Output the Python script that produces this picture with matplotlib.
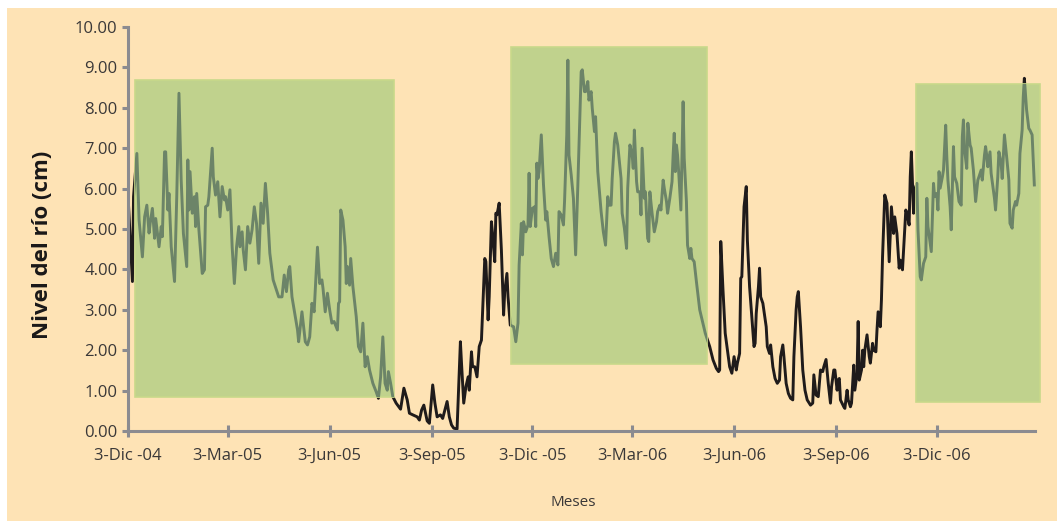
import matplotlib
matplotlib.use("Agg")
import matplotlib.pyplot as plt
from matplotlib.patches import Rectangle
import numpy as np

# ---- data -------------------------------------------------------------
inicio = np.datetime64('2004-12-03')

dias = [
    0, 4, 5, 8, 10, 13, 15, 17, 19, 20,
    22, 24, 25, 28, 30, 31, 33, 34, 36, 37,
    39, 42, 44, 46, 48, 50, 53, 54, 55, 56,
    58, 60, 61, 62, 64, 67, 69, 70, 72, 73,
    76, 77, 79, 81, 83, 85, 87, 88, 90, 92,
    94, 96, 98, 100, 101, 103, 104, 106, 108, 110,
    112, 114, 116, 118, 120, 122, 124, 126, 128, 131,
    133, 136, 139, 141, 143, 145, 146, 148, 151, 153,
    154, 157, 160, 162, 164, 166, 168, 170, 171, 173,
    175, 176, 178, 180, 182, 184, 186, 189, 190, 191,
    192, 194, 196, 197, 198, 200, 201, 203, 206, 208,
    210, 212, 214, 216, 218, 221, 224, 226, 228, 230,
    232, 234, 235, 237, 239, 242, 246, 249, 252, 254,
    257, 261, 263, 265, 267, 270, 272, 275, 277, 279,
    282, 284, 286, 288, 290, 292, 294, 297, 300, 301,
    303, 305, 307, 308, 310, 311, 313, 315, 317, 319,
    320, 322, 323, 325, 326, 328, 329, 331, 332, 333,
    335, 337, 339, 340, 342, 343, 345, 348, 350, 352,
    353, 355, 356, 357, 359, 361, 362, 363, 365, 367,
    368, 369, 370, 371, 373, 375, 377, 378, 380, 382,
    384, 386, 388, 389, 391, 393, 394, 396, 397, 398,
    400, 402, 404, 406, 408, 409, 410, 412, 413, 415,
    416, 418, 419, 421, 422, 424, 427, 429, 431, 433,
    434, 436, 437, 439, 440, 442, 445, 446, 448, 450,
    451, 453, 455, 456, 457, 459, 460, 462, 463, 464,
    466, 467, 469, 470, 471, 473, 475, 477, 478, 480,
    481, 483, 484, 486, 487, 489, 491, 492, 493, 494,
    495, 496, 497, 499, 501, 502, 504, 505, 507, 508,
    509, 511, 513, 516, 521, 525, 528, 531, 533, 534,
    535, 537, 539, 541, 543, 545, 547, 549, 550, 552,
    553, 554, 556, 558, 559, 561, 563, 565, 566, 567,
    569, 570, 571, 573, 576, 577, 579, 580, 582, 584,
    586, 588, 589, 591, 592, 594, 596, 598, 600, 601,
    603, 604, 605, 607, 609, 611, 613, 616, 618, 619,
    621, 623, 625, 627, 628, 630, 632, 634, 635, 637,
    638, 640, 641, 642, 643, 646, 647, 649, 650, 652,
    653, 655, 656, 658, 659, 660, 662, 663, 664, 665,
    667, 669, 670, 672, 673, 675, 676, 677, 679, 680,
    681, 683, 685, 687, 689, 691, 692, 694, 696, 697,
    699, 702, 703, 705, 706, 707, 709, 710, 712, 713,
    715, 716, 718, 720, 721, 722, 724, 725, 727, 728,
    730, 731, 732, 733, 735, 736, 738, 739, 740, 742,
    743, 745, 746, 748, 750, 752, 753, 754, 755, 757,
    758, 760, 761, 763, 765, 767, 768, 770, 771, 773,
    774, 775, 776, 778, 779, 782, 783, 785, 786, 788,
    789, 791, 793, 795, 796, 798, 799, 801, 802, 804,
    805, 807, 808, 809, 811, 813, 814, 816, 818,
]

nivel = [
    5.84, 3.70, 5.80, 6.87, 5.22, 4.31, 5.30, 5.59, 4.90, 5.14,
    5.51, 4.77, 5.26, 4.56, 5.06, 4.81, 6.91, 6.91, 5.47, 5.88,
    4.56, 3.70, 5.80, 8.36, 6.21, 4.89, 4.07, 6.71, 5.47, 6.42,
    5.39, 5.80, 5.06, 5.88, 4.98, 3.90, 3.99, 5.55, 5.59, 5.80,
    7.00, 6.29, 5.84, 6.17, 5.30, 6.05, 5.72, 5.80, 5.47, 5.97,
    4.56, 3.65, 4.56, 5.06, 4.56, 4.93, 4.48, 3.99, 5.06, 4.65,
    4.98, 5.55, 5.14, 4.15, 5.64, 5.14, 6.13, 5.39, 4.40, 3.74,
    3.57, 3.32, 3.32, 3.86, 3.45, 3.99, 4.07, 3.32, 2.83, 2.50,
    2.21, 2.95, 2.21, 2.13, 2.33, 3.16, 2.95, 3.99, 4.55, 3.65,
    3.74, 3.53, 2.95, 3.41, 3.00, 2.67, 2.71, 2.50, 3.16, 3.20,
    5.47, 5.22, 4.56, 3.65, 4.07, 3.61, 4.27, 3.57, 2.83, 2.09,
    1.96, 2.67, 1.59, 1.84, 1.51, 1.18, 0.97, 0.81, 1.34, 2.33,
    1.18, 1.01, 1.47, 1.18, 0.85, 0.69, 0.54, 1.06, 0.77, 0.44,
    0.40, 0.35, 0.27, 0.52, 0.64, 0.25, 0.19, 1.14, 0.69, 0.35,
    0.40, 0.31, 0.52, 0.73, 0.35, 0.15, 0.07, 0.05, 2.21, 1.68,
    0.69, 1.10, 1.34, 1.01, 1.96, 1.59, 1.59, 1.34, 2.09, 2.25,
    2.91, 4.27, 4.19, 2.75, 3.32, 5.18, 4.89, 4.19, 5.39, 5.35,
    5.64, 4.48, 2.87, 3.45, 3.90, 3.32, 2.62, 2.58, 2.21, 2.67,
    4.11, 5.14, 4.36, 5.18, 4.93, 5.10, 6.38, 5.06, 5.51, 5.55,
    5.06, 6.63, 6.25, 6.42, 7.33, 6.09, 5.22, 5.43, 4.81, 4.27,
    4.07, 4.40, 4.11, 5.43, 5.35, 5.10, 5.68, 7.33, 9.18, 6.83,
    6.34, 5.76, 4.36, 6.09, 7.99, 8.89, 8.94, 8.40, 8.40, 8.65,
    8.19, 8.40, 7.99, 7.41, 7.78, 6.42, 5.43, 4.93, 4.60, 5.80,
    5.59, 5.59, 6.25, 7.16, 7.37, 7.08, 6.25, 5.39, 5.02, 4.52,
    6.01, 7.08, 6.83, 6.50, 7.45, 6.17, 5.92, 5.92, 5.35, 7.00,
    5.76, 5.92, 4.77, 4.69, 5.92, 5.39, 4.93, 5.18, 5.43, 5.59,
    5.47, 6.21, 6.01, 5.68, 5.39, 5.76, 6.17, 6.83, 7.37, 6.42,
    7.08, 6.83, 6.42, 5.47, 8.15, 6.75, 5.68, 4.60, 4.27, 4.52,
    4.27, 4.19, 3.70, 3.00, 2.42, 2.09, 1.76, 1.55, 1.47, 1.51,
    4.69, 3.49, 2.42, 2.00, 1.59, 1.43, 1.84, 1.51, 1.68, 1.92,
    3.78, 3.82, 5.55, 6.05, 4.73, 3.57, 2.83, 2.09, 2.17, 2.91,
    3.57, 4.03, 3.32, 3.16, 2.58, 2.09, 1.92, 2.13, 1.59, 1.30,
    1.18, 1.26, 1.84, 2.13, 1.84, 1.18, 0.93, 0.81, 0.77, 1.84,
    3.00, 3.32, 3.45, 2.58, 1.51, 1.01, 0.77, 0.64, 0.69, 1.39,
    0.89, 0.85, 1.51, 1.47, 1.59, 1.77, 1.18, 0.69, 1.10, 1.51,
    1.51, 1.01, 1.26, 1.30, 0.77, 0.60, 0.56, 1.01, 0.77, 0.60,
    0.69, 1.63, 1.01, 1.43, 2.71, 1.26, 1.51, 2.00, 1.59, 2.00,
    2.38, 1.84, 1.68, 2.17, 2.00, 1.96, 2.50, 2.95, 2.58, 3.24,
    4.31, 5.84, 5.64, 4.19, 5.55, 4.89, 5.30, 4.89, 4.03, 4.23,
    3.99, 5.47, 5.39, 5.10, 6.29, 6.91, 5.39, 5.97, 6.13, 4.98,
    3.82, 3.74, 4.15, 4.31, 5.76, 5.06, 4.65, 4.44, 6.13, 5.80,
    5.88, 5.47, 6.42, 6.01, 6.29, 6.46, 7.57, 6.79, 6.21, 5.55,
    4.98, 7.04, 6.29, 6.13, 5.68, 5.59, 7.28, 7.70, 6.96, 6.50,
    7.62, 7.08, 7.00, 6.46, 5.68, 6.21, 6.29, 6.46, 6.21, 6.83,
    7.04, 6.83, 6.54, 6.91, 6.38, 5.76, 5.47, 6.29, 6.91, 6.63,
    6.25, 7.33, 6.79, 6.21, 5.14, 5.02, 5.47, 5.68, 5.59, 5.88,
    6.87, 7.45, 8.27, 8.73, 7.95, 7.49, 7.45, 7.33, 6.09,
]

# highlighted periods (start, end, lower level, upper level)
periodo_inicio = ['2004-12-09', '2005-11-14', '2006-11-14']
periodo_fin = ['2005-07-31', '2006-05-10', '2007-03-06']
periodo_min = [0.85, 1.65, 0.73]
periodo_max = [8.69, 9.51, 8.58]

tick_fechas = ['2004-12-03', '2005-03-03', '2005-06-03', '2005-09-03',
               '2005-12-03', '2006-03-03', '2006-06-03', '2006-09-03',
               '2006-12-03']
tick_textos = ['3-Dic -04', '3-Mar-05', '3-Jun-05', '3-Sep-05', '3-Dic -05',
               '3-Mar-06', '3-Jun-06', '3-Sep-06', '3-Dic -06']
y_ticks = [0, 1, 2, 3, 4, 5, 6, 7, 8, 9, 10]


def a_dias(fecha):
    return float((np.datetime64(fecha) - inicio) / np.timedelta64(1, 'D'))


# ---- style -------------------------------------------------------------
plt.rcParams['font.family'] = ['Open Sans', 'DejaVu Sans']
PEACH = '#fee3b5'
AXIS = '#8b8b90'
TXT = '#3a3838'
GREEN = '#c0d28d'
GREEN_EDGE = '#c8d98a'
LINE = '#1f1b1b'
LINE_IN = '#6c8468'
LW = 2.1

W, H = 1057, 521
fig = plt.figure(figsize=(W / 100, H / 100), dpi=100, facecolor='white')
fig.patches.append(Rectangle((7 / W, 0), 1 - 7 / W, 1 - 8 / H,
                             transform=fig.transFigure, facecolor=PEACH,
                             edgecolor='none', zorder=-10))

ax = fig.add_axes([128 / W, 90 / H, (1035 - 128) / W, (431 - 27) / H])
ax.set_zorder(5)
ax.patch.set_visible(False)

ax.plot(dias, nivel, color=LINE, lw=LW, zorder=3, solid_joinstyle='round')

for f0, f1, lo, hi in zip(periodo_inicio, periodo_fin, periodo_min, periodo_max):
    x0, x1 = a_dias(f0), a_dias(f1)
    rect = Rectangle((x0, lo), x1 - x0, hi - lo, facecolor=GREEN,
                     edgecolor=GREEN_EDGE, lw=1.2, zorder=3.5, clip_on=False)
    ax.add_patch(rect)
    ln, = ax.plot(dias, nivel, color=LINE_IN, lw=LW, zorder=4,
                  solid_joinstyle='round')
    ln.set_clip_path(rect)

ax.set_xlim(0, 818.6)
ax.set_ylim(0, 10)

ax.set_yticks(y_ticks)
ax.set_yticklabels([f'{v:.2f}' for v in y_ticks])
ax.set_xticks([a_dias(f) for f in tick_fechas])
ax.set_xticklabels(tick_textos)

for s in ['top', 'right']:
    ax.spines[s].set_visible(False)
for s in ['left', 'bottom']:
    ax.spines[s].set_color(AXIS)
    ax.spines[s].set_linewidth(2.2)
    ax.spines[s].set_zorder(5)

ax.tick_params(axis='y', direction='out', length=4.5, width=2.2, color=AXIS,
               labelsize=12, labelcolor=TXT, pad=3)
ax.tick_params(axis='x', direction='inout', length=8, width=2.2, color=AXIS,
               labelsize=12, labelcolor=TXT, pad=8)

fig.text(42.5 / W, 1 - 245 / H, 'Nivel del río (cm)', rotation=90,
         ha='center', va='center', fontsize=16, fontweight='bold',
         color='#1a1818')
fig.text(573 / W, 1 - 503 / H, 'Meses', ha='center', va='center',
         fontsize=11, color=TXT)

fig.savefig('out.png', dpi=100, facecolor=fig.get_facecolor())
